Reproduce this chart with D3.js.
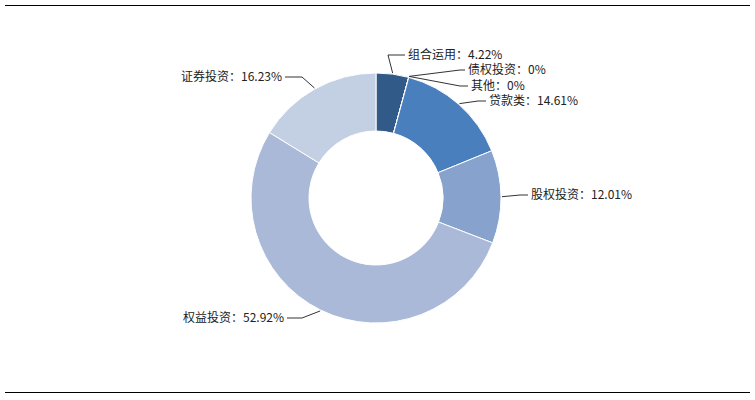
<!DOCTYPE html>
<html><head><meta charset="utf-8">
<script src="https://cdn.jsdelivr.net/npm/d3@7"></script>
<style>body{margin:0;background:#fff}svg{display:block;font-family:"Noto Sans CJK SC","Noto Sans",sans-serif}</style>
</head><body><svg id="c" width="755" height="400"></svg>
<script>
const categories = ['组合运用', '债权投资', '其他', '贷款类', '股权投资', '权益投资', '证券投资'];
const values = [4.22, 0, 0, 14.61, 12.01, 52.92, 16.23];
const colors = ['#325a88', '#3f6fa8', '#3f6fa8', '#4a7fbd', '#86a2cd', '#aab9d8', '#c3cfe2'];

// leader elbow / label placement per category
const layout = {
  '组合运用': {elbow: [388, 55], end: [405, 55], anchor: 'start'},
  '债权投资': {elbow: [460, 70], end: [465, 70], anchor: 'start'},
  '其他':     {elbow: [460, 86], end: [468, 86], anchor: 'start'},
  '贷款类':   {elbow: [478, 101], end: [486, 101], anchor: 'start'},
  '股权投资': {elbow: [520, 195], end: [528, 195], anchor: 'start'},
  '权益投资': {elbow: [302, 318], end: [287, 318], anchor: 'end'},
  '证券投资': {elbow: [302, 77], end: [285, 77], anchor: 'end'}
};

const svg = d3.select('#c');
const cx = 376, cy = 198, R = 125, r0 = 67;

svg.append('line').attr('x1', 5).attr('x2', 750).attr('y1', 5.5).attr('y2', 5.5).attr('stroke', '#000');
svg.append('line').attr('x1', 5).attr('x2', 750).attr('y1', 392.5).attr('y2', 392.5).attr('stroke', '#000');

const data = categories.map((c, i) => ({name: c, value: values[i], color: colors[i]}));
const pie = d3.pie().value(d => d.value).sort(null);
const arc = d3.arc().innerRadius(r0).outerRadius(R);
const arcs = pie(data);

const g = svg.append('g').attr('transform', `translate(${cx},${cy})`);
g.selectAll('path.slice').data(arcs).join('path')
  .attr('class', 'slice')
  .attr('d', arc)
  .attr('fill', d => d.data.color)
  .attr('stroke', '#fff').attr('stroke-width', 1);

const labels = svg.append('g');
arcs.forEach(d => {
  const L = layout[d.data.name];
  const a = (d.startAngle + d.endAngle) / 2;
  const sx = cx + Math.sin(a) * (R + 1), sy = cy - Math.cos(a) * (R + 1);
  labels.append('polyline')
    .attr('points', [[sx, sy], L.elbow, L.end].map(p => p.join(',')).join(' '))
    .attr('fill', 'none').attr('stroke', '#333').attr('stroke-width', 1);
  labels.append('text')
    .attr('x', L.end[0] + (L.anchor === 'start' ? 3 : -3))
    .attr('y', L.end[1])
    .attr('dy', '0.35em')
    .attr('text-anchor', L.anchor)
    .attr('font-size', 12).attr('fill', '#222')
    .text(d.data.name + '：' + d.data.value + '%');
});
</script></body></html>
